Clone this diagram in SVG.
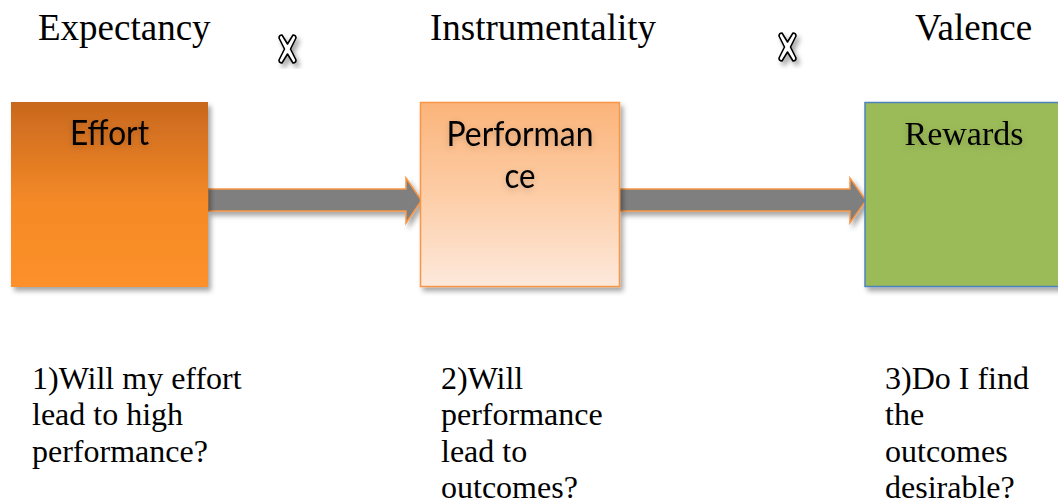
<svg xmlns="http://www.w3.org/2000/svg" width="1058" height="502" viewBox="0 0 1058 502">
  <style>
    .title { font-family: "Liberation Serif", "Times New Roman", serif; font-size: 37px; fill: #000; }
    .question { font-family: "Liberation Serif", "Times New Roman", serif; font-size: 32px; fill: #000; }
    .label-sans { font-family: Lato, "Open Sans", "Liberation Sans", sans-serif; font-size: 34px; fill: #000; }
    .label-serif { font-family: "Liberation Serif", "Times New Roman", serif; font-size: 34px; fill: #000; }
    .arrow { fill: #7f7f7f; stroke: #f79646; stroke-width: 1.5; stroke-linejoin: miter; }
    .times { fill: #fff; stroke: #000; stroke-width: 1.6; stroke-linejoin: round; }
  </style>
  <defs>
    <linearGradient id="effortFill" x1="0" y1="0" x2="0" y2="1">
      <stop offset="0" stop-color="#c8681e"/>
      <stop offset="0.55" stop-color="#f58a27"/>
      <stop offset="1" stop-color="#fd9029"/>
    </linearGradient>
    <linearGradient id="perfFill" x1="0" y1="0" x2="0" y2="1">
      <stop offset="0" stop-color="#fbb47a"/>
      <stop offset="0.5" stop-color="#fdcda6"/>
      <stop offset="1" stop-color="#fde9dc"/>
    </linearGradient>
    <filter id="shadow" x="-10%" y="-10%" width="130%" height="130%">
      <feDropShadow dx="3" dy="4" stdDeviation="2.5" flood-color="#000" flood-opacity="0.35"/>
    </filter>
    <filter id="textGlow" x="-10%" y="-20%" width="120%" height="150%">
      <feDropShadow dx="0" dy="2" stdDeviation="3" flood-color="#000" flood-opacity="0.18"/>
    </filter>
    <!-- outlined multiplication sign -->
    <path id="timesSign" class="times"
          d="M-8.5,-11 Q-8.5,-14 -5.5,-14 L0,-5 L5.5,-14 Q8.5,-14 8.5,-11 L3,0 L8.5,11 Q8.5,14 5.5,14 L0,5 L-5.5,14 Q-8.5,14 -8.5,11 L-3,0 Z"/>
  </defs>

  <rect width="1058" height="502" fill="#fff"/>

  <!-- column headings -->
  <g id="headings">
    <text class="title" x="38" y="40">Expectancy</text>
    <text class="title" x="430" y="40">Instrumentality</text>
    <text class="title" x="915" y="40">Valence</text>
  </g>

  <!-- multiplication signs between headings -->
  <g id="operators" filter="url(#shadow)">
    <use href="#timesSign" x="287.5" y="49"/>
    <use href="#timesSign" x="787.5" y="47"/>
  </g>

  <!-- connectors -->
  <g id="connectors" filter="url(#shadow)">
    <polygon class="arrow" points="208,189 406,189 406,178 421.5,200.5 406,223 406,211 208,211"/>
    <polygon class="arrow" points="619,189 850,189 850,178 866,200.5 850,223 850,211 619,211"/>
  </g>

  <!-- nodes -->
  <g id="node-effort">
    <rect x="11" y="102" width="197" height="185" fill="url(#effortFill)" filter="url(#shadow)"/>
    <text class="label-sans" x="109.5" y="145" text-anchor="middle" textLength="79" lengthAdjust="spacingAndGlyphs" filter="url(#textGlow)">Effort</text>
  </g>

  <g id="node-performance">
    <rect x="420.5" y="102.5" width="199" height="184" fill="url(#perfFill)" stroke="#f79646" stroke-width="1.5" filter="url(#shadow)"/>
    <g filter="url(#textGlow)">
      <text class="label-sans" x="520" y="145.5" text-anchor="middle" textLength="147" lengthAdjust="spacingAndGlyphs">Performan</text>
      <text class="label-sans" x="520" y="188" text-anchor="middle" textLength="31" lengthAdjust="spacingAndGlyphs">ce</text>
    </g>
  </g>

  <g id="node-rewards">
    <rect x="865" y="102.5" width="200" height="184" fill="#9bbb59" stroke="#4f81bd" stroke-width="1.5" filter="url(#shadow)"/>
    <text class="label-serif" x="964" y="145" text-anchor="middle" filter="url(#textGlow)">Rewards</text>
  </g>

  <!-- questions under each node -->
  <g id="question-1">
    <text class="question" x="32" y="388.5">1)Will my effort</text>
    <text class="question" x="32" y="425">lead to high</text>
    <text class="question" x="32" y="461.5">performance?</text>
  </g>
  <g id="question-2">
    <text class="question" x="441" y="388.5">2)Will</text>
    <text class="question" x="441" y="425">performance</text>
    <text class="question" x="441" y="461.5">lead to</text>
    <text class="question" x="441" y="498">outcomes?</text>
  </g>
  <g id="question-3">
    <text class="question" x="885" y="388.5">3)Do I find</text>
    <text class="question" x="885" y="425">the</text>
    <text class="question" x="885" y="461.5">outcomes</text>
    <text class="question" x="885" y="498">desirable?</text>
  </g>
</svg>
